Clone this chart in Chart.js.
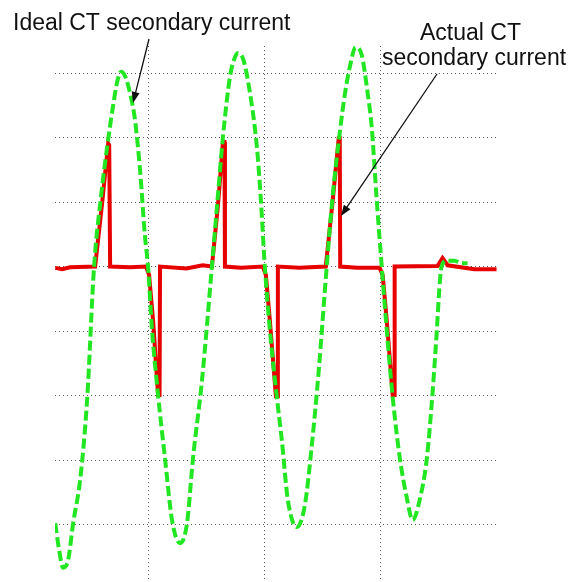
<!DOCTYPE html>
<html>
<head>
<meta charset="utf-8">
<script src="https://cdn.jsdelivr.net/npm/chart.js@4/dist/chart.umd.min.js"></script>
<style>
  body { margin: 0; background: #fff; }
  #wrap { width: 571px; height: 582px; position: relative; }
</style>
</head>
<body>
<div id="wrap"><canvas id="ctChart"></canvas></div>
<script>
// Grid positions (divisions)
const xTicks = [1, 2, 3];
const yTicks = [3, 2, 1, 0, -1, -2, -3, -4];

// Ideal CT secondary current (green)
const idealX = [0.202, 0.236, 0.270, 0.313, 0.356, 0.416, 0.476, 0.536, 0.597, 0.648, 0.700, 0.734, 0.768, 0.803, 0.845, 0.888, 0.931, 0.974, 1.000,
  1.034, 1.086, 1.146, 1.206, 1.275, 1.335, 1.386, 1.464, 1.549,
  1.601, 1.644, 1.704, 1.738, 1.773, 1.815, 1.858, 1.936, 1.970, 2.004,
  2.047, 2.107, 2.150, 2.202, 2.279, 2.348, 2.408, 2.468, 2.536,
  2.588, 2.648, 2.691, 2.734, 2.785, 2.837, 2.888, 2.923, 2.966, 3.009,
  3.052, 3.103, 3.163, 3.223, 3.275, 3.335, 3.395, 3.446, 3.472, 3.524,
  3.567, 3.635, 3.695, 3.747];
const idealY = [-3.98, -4.40, -4.67, -4.55, -3.98, -3.31, -2.07, 0, 1.11, 1.85, 2.50, 2.86, 3.02, 2.95, 2.69, 2.27, 1.50, 0.46, 0,
  -0.98, -1.99, -2.98, -3.93, -4.29, -3.98, -2.98, -1.76, 0,
  1.11, 2.01, 2.94, 3.20, 3.31, 3.23, 2.89, 1.85, 1.03, 0,
  -0.98, -2.02, -2.69, -3.62, -4.04, -3.70, -2.77, -1.60, 0,
  1.11, 2.07, 2.66, 3.09, 3.40, 3.28, 2.69, 2.16, 1.03, 0,
  -0.98, -2.02, -2.95, -3.57, -3.93, -3.62, -3.00, -1.96, -1.29, 0,
  0.09, 0.09, 0.05, 0.05];

// Actual CT secondary current (red)
const actualX = [0.202, 0.262, 0.330, 0.545, 0.605, 0.657, 0.666, 0.674, 0.845, 0.983, 1.009, 1.043, 1.086, 1.099, 1.103,
  1.330, 1.470, 1.549, 1.601, 1.644, 1.657, 1.661, 1.800, 1.987, 2.013, 2.047, 2.099, 2.112, 2.116,
  2.300, 2.528, 2.588, 2.639, 2.648, 2.652, 2.800, 2.991, 3.017, 3.052, 3.103, 3.116, 3.120,
  3.489, 3.532, 3.575, 3.807, 3.996];
const actualY = [-0.02, -0.04, -0.01, 0, 0.98, 1.91, 1.88, 0, -0.01, 0, -0.13, -0.83, -1.99, -1.99, 0,
  -0.03, 0.02, 0, 0.95, 1.93, 1.93, 0, -0.02, 0, -0.13, -0.83, -2.01, -2.01, 0,
  -0.02, 0, 1.03, 1.99, 1.99, 0, -0.02, -0.02, -0.13, -0.83, -1.99, -1.99, 0,
  0.01, 0.13, 0.02, -0.04, -0.04];

const toPoints = (xs, ys) => xs.map((x, i) => ({ x, y: ys[i] }));

function drawArrow(c, x1, y1, x2, y2) {
  const ang = Math.atan2(y2 - y1, x2 - x1);
  const len = 11, half = 4;
  c.beginPath();
  c.moveTo(x1, y1);
  c.lineTo(x2 - Math.cos(ang) * len * 0.8, y2 - Math.sin(ang) * len * 0.8);
  c.stroke();
  c.beginPath();
  c.moveTo(x2, y2);
  c.lineTo(x2 - Math.cos(ang) * len + Math.sin(ang) * half, y2 - Math.sin(ang) * len - Math.cos(ang) * half);
  c.lineTo(x2 - Math.cos(ang) * len - Math.sin(ang) * half, y2 - Math.sin(ang) * len + Math.cos(ang) * half);
  c.closePath();
  c.fill();
}

const labels = {
  id: "labels",
  afterDraw(chart) {
    const c = chart.ctx;
    c.save();
    c.fillStyle = "#111";
    c.strokeStyle = "#111";
    c.lineWidth = 1.3;
    c.font = "23px 'Liberation Sans', Arial, sans-serif";
    c.textBaseline = "alphabetic";
    c.textAlign = "left";
    c.fillText("Ideal CT secondary current", 13, 30);
    c.fillText("Actual CT", 420, 40);
    c.fillText("secondary current", 382, 65);
    drawArrow(c, 149, 39, 133, 103);
    drawArrow(c, 437, 74, 341, 216);
    c.restore();
  }
};

const gridOpts = { color: "#555", lineWidth: 1, drawTicks: false };

new Chart(document.getElementById("ctChart"), {
  type: "line",
  data: {
    datasets: [
      {
        label: "Ideal CT secondary current",
        data: toPoints(idealX, idealY),
        borderColor: "#22e622",
        borderWidth: 4,
        borderDash: [10, 4],
        cubicInterpolationMode: "monotone",
        pointRadius: 0,
        order: 0
      },
      {
        label: "Actual CT secondary current",
        data: toPoints(actualX, actualY),
        borderColor: "#e60000",
        borderWidth: 4,
        tension: 0,
        pointRadius: 0,
        order: 1
      }
    ]
  },
  options: {
    responsive: true,
    maintainAspectRatio: false,
    animation: false,
    layout: { padding: { left: 55, right: 74, top: 46, bottom: 2 } },
    plugins: { legend: { display: false }, tooltip: { enabled: false } },
    scales: {
      x: {
        type: "linear",
        min: 0.2,
        max: 4,
        afterBuildTicks: axis => { axis.ticks = xTicks.map(v => ({ value: v })); },
        ticks: { display: false },
        grid: gridOpts,
        border: { display: false, dash: [1, 3] }
      },
      y: {
        type: "linear",
        min: -4.86,
        max: 3.42,
        afterBuildTicks: axis => { axis.ticks = yTicks.map(v => ({ value: v })); },
        ticks: { display: false },
        grid: gridOpts,
        border: { display: false, dash: [1, 3] }
      }
    }
  },
  plugins: [labels]
});
</script>
</body>
</html>
